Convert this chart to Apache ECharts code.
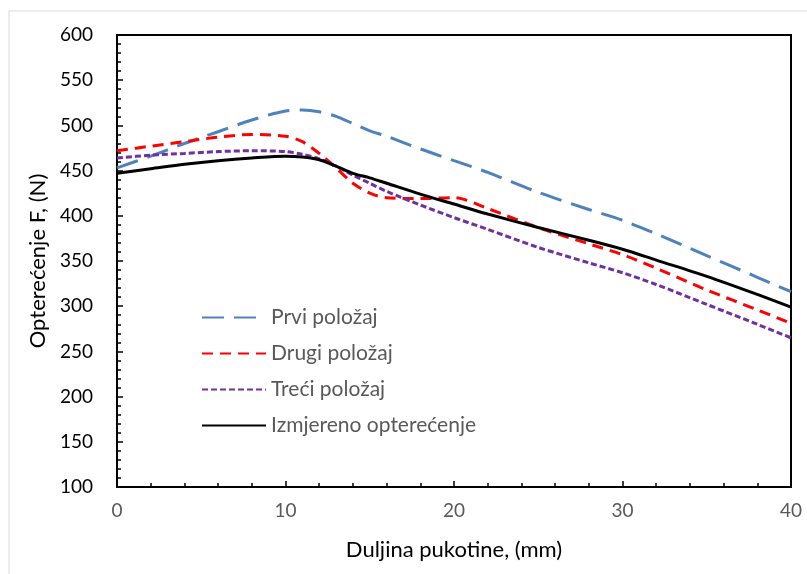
<!DOCTYPE html>
<html>
<head>
<meta charset="utf-8">
<script src="https://cdn.jsdelivr.net/npm/echarts@6/dist/echarts.min.js"></script>
<style>
  html, body { margin: 0; padding: 0; background: #fff; }
  #chart { width: 807px; height: 574px; }
</style>
</head>
<body>
<div id="chart"></div>
<script>
// duljina pukotine (mm)
var xs = [0, 2, 4, 6, 8, 10, 11, 12, 13, 14, 15, 16, 18, 20, 22, 25, 28, 30, 32, 35, 38, 40]
// opterecenje (N)
var prvi = [453, 466, 480, 493, 506, 516, 517, 515, 510, 502, 494, 488, 474, 461, 448, 426, 407, 395, 380, 356, 332, 316]
var drugi = [472, 477, 482, 487, 490, 488, 482, 469, 453, 436, 425, 420, 419, 420, 408, 387, 369, 357, 342, 318, 296, 281]
var treci = [464, 467, 469, 471, 472, 471, 468, 463, 455, 445, 436, 427, 412, 398, 385, 365, 348, 337, 324, 302, 280, 265]
var izmjereno = [447, 452, 457, 461, 464, 466, 465, 462, 455, 447, 442, 436, 424, 413, 402, 387, 373, 363, 351, 333, 313, 299]
var names = ['Prvi položaj', 'Drugi položaj', 'Treći položaj', 'Izmjereno opterećenje']

function pairs(ys) {
  return xs.map(function (x, i) { return [x, ys[i]] })
}

var chart = echarts.init(document.getElementById('chart'))
var font = 'Lato, "Open Sans", sans-serif'

chart.setOption({
  animation: false,
  textStyle: { fontFamily: font },
  graphic: [{
    type: 'rect',
    shape: { x: 9, y: 11, width: 820, height: 600 },
    style: { fill: 'none', stroke: '#d9d9d9', lineWidth: 1 },
    silent: true
  }],
  grid: {
    left: 117, top: 35, right: 16, bottom: 87,
    show: true, borderColor: '#000', borderWidth: 2
  },
  legend: {
    orient: 'vertical',
    left: 196,
    top: 302,
    itemWidth: 64,
    itemHeight: 16,
    itemGap: 15,
    itemStyle: { opacity: 0 },
    textStyle: { fontSize: 21, color: '#595959', fontFamily: font },
    data: names
  },
  xAxis: {
    type: 'value',
    min: 0, max: 40, interval: 10,
    name: 'Duljina pukotine, (mm)',
    nameLocation: 'middle',
    nameGap: 52,
    nameTextStyle: { fontSize: 22, color: '#000', fontFamily: font },
    axisLine: { lineStyle: { color: '#000', width: 2 } },
    axisTick: { inside: true, length: 6, lineStyle: { color: '#000', width: 1.5 } },
    minorTick: { show: true, splitNumber: 5, length: 4, lineStyle: { color: '#000', width: 1.5 } },
    axisLabel: { fontSize: 19, color: '#595959', margin: 14 },
    splitLine: { show: false }
  },
  yAxis: {
    type: 'value',
    min: 100, max: 600, interval: 50,
    name: 'Opterećenje F, (N)',
    nameLocation: 'middle',
    nameGap: 68,
    nameTextStyle: { fontSize: 22, color: '#000', fontFamily: font },
    axisLine: { show: true, lineStyle: { color: '#000', width: 2 } },
    axisTick: { show: true, inside: true, length: 6, lineStyle: { color: '#000', width: 1.5 } },
    minorTick: { show: true, splitNumber: 5, length: 4, lineStyle: { color: '#000', width: 1.5 } },
    axisLabel: { fontSize: 19, color: '#000', margin: 24 },
    splitLine: { show: false }
  },
  series: [
    {
      name: names[0], type: 'line', data: pairs(prvi), smooth: 0.3, symbol: 'none',
      lineStyle: { color: '#4f81bd', width: 3, type: [22, 10] },
      itemStyle: { color: '#4f81bd' }
    },
    {
      name: names[1], type: 'line', data: pairs(drugi), smooth: 0.3, symbol: 'none',
      lineStyle: { color: '#ff0000', width: 3, type: [11, 7] },
      itemStyle: { color: '#ff0000' }
    },
    {
      name: names[2], type: 'line', data: pairs(treci), smooth: 0.3, symbol: 'none',
      lineStyle: { color: '#7030a0', width: 3, type: [6, 3] },
      itemStyle: { color: '#7030a0' }
    },
    {
      name: names[3], type: 'line', data: pairs(izmjereno), smooth: 0.3, symbol: 'none',
      lineStyle: { color: '#000', width: 3 },
      itemStyle: { color: '#000' }
    }
  ]
})
</script>
</body>
</html>
